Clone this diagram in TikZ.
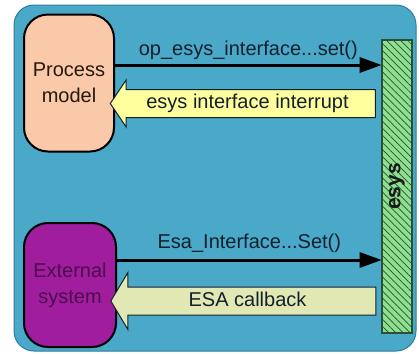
\documentclass[tikz,border=0pt]{standalone}
\usepackage{fontspec}
\setmainfont{Liberation Sans}
\usetikzlibrary{arrows.meta,shapes.arrows,patterns.meta}

\definecolor{panelblue}{HTML}{4AA8C8}
\definecolor{paneledge}{HTML}{2F7C9C}
\definecolor{peach}{HTML}{F9C9A9}
\definecolor{extpurple}{HTML}{A01E9E}
\definecolor{extink}{HTML}{4E0A4E}
\definecolor{esysgreen}{HTML}{8EDF8E}
\definecolor{hatch}{HTML}{2A5038}
\definecolor{irqyellow}{HTML}{FFFF9E}
\definecolor{cbkhaki}{HTML}{E2E8B4}
\definecolor{ink}{HTML}{14202C}

\begin{document}
\begin{tikzpicture}[x=1pt, y=-1pt]
\tikzstyle{block}=[draw=black, line width=2pt, rounded corners=24pt, align=center,
    font=\fontsize{20}{26}\selectfont]
\tikzstyle{call}=[-{Triangle[length=22pt,width=15pt]}, line width=3pt]
\tikzstyle{reply}=[single arrow, shape border rotate=180, draw=ink, line width=1pt,
    inner sep=4.5pt, text height=14pt, text depth=4pt, text=ink,
    font=\fontsize{20}{24}\selectfont]
\tikzstyle{msg}=[font=\fontsize{20}{24}\selectfont, inner sep=0pt, text depth=0pt, text=ink]

\useasboundingbox (0,0) rectangle (419,354);

% background panel
\draw [rounded corners=20pt, fill=panelblue, draw=paneledge, line width=1pt]
    (14,5) rectangle (416,351);

\node (proc) at (69,83) [block, fill=peach, text=black!80!brown,
    minimum width=90pt, minimum height=137pt] {Process\\model};
\node (ext) at (70,285) [block, fill=extpurple, text=extink,
    minimum width=92pt, minimum height=124pt] {External\\system};

% the esys bar on the right
\node (esys) at (397,186.5) [draw=hatch, line width=1.2pt, minimum width=30pt,
    minimum height=293pt, preaction={fill=esysgreen},
    pattern={Lines[angle=-45,distance=5pt,line width=0.7pt]}, pattern color=hatch] {};
\node (esyslbl) at (esys) [rotate=90, text=black!90,
    font=\bfseries\fontsize{21}{24}\selectfont] {esys};

% calls into esys
\draw [call] ([yshift=18pt]proc.east) -- ([yshift=18pt]proc.east -| esys.west)
    node [msg, midway, above=8pt] {op\_esys\_interface...set()};
\draw [call] ([yshift=25pt]ext.east) -- ([yshift=25pt]ext.east -| esys.west)
    node [msg, midway, above=10pt] {Esa\_Interface...Set()};

% replies back out of esys
\node (irq) at (247.5,103.5) [reply, fill=irqyellow, minimum height=265pt,
    single arrow head extend=9.5pt, single arrow tip angle=112] {esys interface interrupt};
\node (cbk) at (247.5,301) [reply, fill=cbkhaki, minimum height=265pt,
    single arrow head extend=14.5pt, single arrow tip angle=118] {ESA callback};

\end{tikzpicture}
\end{document}
